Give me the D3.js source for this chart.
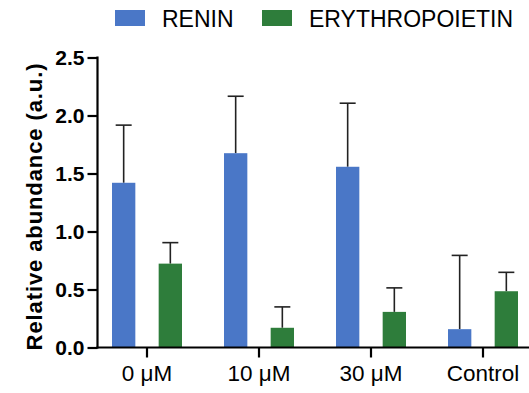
<!DOCTYPE html>
<html>
<head>
<meta charset="utf-8">
<script src="https://cdn.jsdelivr.net/npm/d3@7/dist/d3.min.js"></script>
<style>
  html, body { margin: 0; padding: 0; background: #fff; }
  svg { display: block; font-family: "Liberation Sans", Arial, Helvetica, sans-serif; }
</style>
</head>
<body>
<svg id="chart" width="529" height="393"></svg>
<script>
const categories = ["0 \u03bcM", "10 \u03bcM", "30 \u03bcM", "Control"];
const seriesNames = ["RENIN", "ERYTHROPOIETIN"];
const reninValues = [1.42, 1.675, 1.558, 0.158];
const reninErrors = [0.497, 0.491, 0.548, 0.636];
const epoValues = [0.723, 0.17, 0.307, 0.485];
const epoErrors = [0.181, 0.18, 0.207, 0.163];
const yTicks = [0.0, 0.5, 1.0, 1.5, 2.0, 2.5];
const colors = ["#4a77c7", "#2e7d3b"];

const svg = d3.select("#chart");

const y = d3.scaleLinear().domain([0, 2.5]).range([347.5, 57.5]);
const x = d3.scaleBand().domain(categories).range([91, 539]).padding(0);
const inner = d3.scaleBand().domain(seriesNames).range([-35, 35]).paddingInner(0.5).paddingOuter(0);
const barW = inner.bandwidth();

const series = [
  {name: seriesNames[0], values: reninValues, errors: reninErrors, color: colors[0]},
  {name: seriesNames[1], values: epoValues, errors: epoErrors, color: colors[1]}
];

const data = [];
series.forEach(s => {
  categories.forEach((c, i) => {
    data.push({cat: c, name: s.name, v: s.values[i], e: s.errors[i], color: s.color});
  });
});

const cx = d => x(d.cat) + x.bandwidth() / 2 + inner(d.name) + barW / 2;

// error bars
const eb = svg.append("g").attr("stroke", "#222").attr("stroke-width", 1.6).attr("fill", "none");
data.forEach(d => {
  eb.append("line").attr("x1", cx(d)).attr("x2", cx(d)).attr("y1", y(d.v)).attr("y2", y(d.v + d.e));
  eb.append("line").attr("x1", cx(d) - 8).attr("x2", cx(d) + 8).attr("y1", y(d.v + d.e)).attr("y2", y(d.v + d.e));
});

// bars
svg.append("g").selectAll("rect").data(data).join("rect")
  .attr("x", d => cx(d) - barW / 2)
  .attr("width", barW)
  .attr("y", d => y(d.v))
  .attr("height", d => y(0) - y(d.v))
  .attr("fill", d => d.color);

// y axis
const yAxis = svg.append("g").attr("transform", "translate(97.5,0)")
  .call(d3.axisLeft(y).tickValues(yTicks).tickFormat(d3.format(".1f")).tickSize(10).tickPadding(3));
yAxis.select(".domain").remove();
yAxis.selectAll(".tick line").attr("stroke", "#000").attr("stroke-width", 2.2);
yAxis.selectAll(".tick text").attr("font-size", "21px").attr("font-weight", "bold")
  .attr("fill", "#000").attr("font-family", "Liberation Sans, Arial, sans-serif");
svg.append("line").attr("x1", 97.5).attr("x2", 97.5).attr("y1", y(2.5) - 1.1).attr("y2", y(0) + 1.1)
  .attr("stroke", "#000").attr("stroke-width", 2.2);

// x axis
const xAxis = svg.append("g").attr("transform", `translate(0,${y(0)})`)
  .call(d3.axisBottom(x).tickSize(10).tickPadding(8));
xAxis.select(".domain").remove();
xAxis.selectAll(".tick line").attr("stroke", "#000").attr("stroke-width", 2.2);
xAxis.selectAll(".tick text").attr("font-size", "22.5px").attr("fill", "#000")
  .attr("font-family", "Liberation Sans, Arial, sans-serif");
svg.append("line").attr("x1", 96.4).attr("x2", 529).attr("y1", y(0)).attr("y2", y(0))
  .attr("stroke", "#000").attr("stroke-width", 2.2);

// y title
svg.append("text")
  .attr("transform", `translate(42,${(62 + 351) / 2}) rotate(-90)`)
  .attr("text-anchor", "middle")
  .attr("font-size", "22px").attr("font-weight", "bold")
  .attr("letter-spacing", "0.9px")
  .text("Relative abundance (a.u.)");

// legend
const legendX = [115, 262];
series.forEach((s, i) => {
  svg.append("rect").attr("x", legendX[i]).attr("y", 10).attr("width", 30).attr("height", 16).attr("fill", s.color);
  svg.append("text").attr("x", legendX[i] + 47).attr("y", 26.5)
    .attr("font-size", "23px").attr("fill", "#000").text(s.name);
});
</script>
</body>
</html>
